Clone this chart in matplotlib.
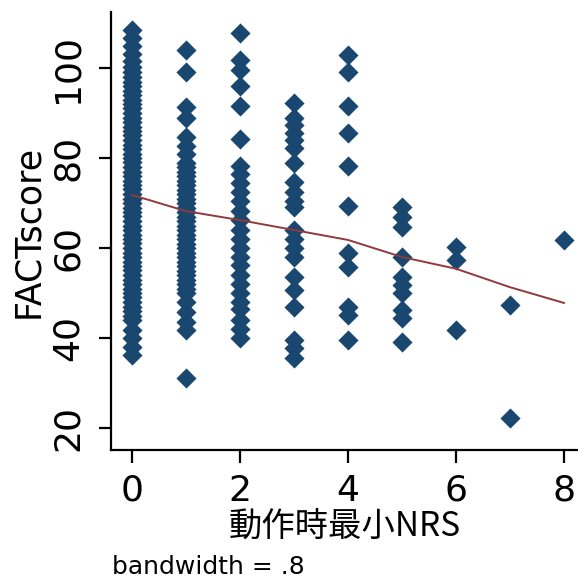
import matplotlib.pyplot as plt

# FACT score by minimum NRS during movement
nrs0 = [108.4, 106.7, 104.9, 103.1, 101.6, 100.2, 99.1, 98.0, 97.0, 96.1, 95.0, 94.1, 93.0, 92.0, 91.1,
        90.0, 89.0, 88.1, 87.0, 86.0, 85.1, 84.0, 83.0, 82.1, 81.0, 80.0, 79.1, 78.0, 77.0, 76.1,
        75.0, 74.0, 73.1, 72.0, 71.0, 70.1, 69.0, 68.0, 67.1, 66.0, 65.0, 64.1, 63.0, 62.0, 61.1,
        60.0, 59.0, 58.1, 57.0, 56.0, 55.1, 54.0, 53.0, 52.1, 51.0, 50.0, 49.1, 48.0, 47.0, 46.1,
        45.0, 44.0, 41.8, 40.0, 38.0, 36.2]
nrs1 = [104.0, 99.1, 91.3, 88.9, 84.7, 82.6, 80.9, 79.0, 78.0, 77.0, 76.0, 75.0, 74.0, 73.0, 72.0,
        71.0, 70.0, 69.0, 68.0, 67.0, 66.0, 65.0, 64.0, 63.0, 62.0, 61.0, 60.0, 59.0, 58.0, 57.0,
        56.0, 55.0, 54.0, 53.0, 52.0, 51.0, 50.0, 48.0, 45.8, 43.6, 41.8, 31.1]
nrs2 = [107.7, 101.8, 99.6, 95.9, 91.6, 84.2, 78.2, 76.5, 74.5, 72.5, 70.5, 68.2, 66.2, 64.0, 62.0,
        60.0, 58.0, 56.2, 54.0, 52.0, 50.0, 48.0, 46.5, 44.0, 42.0, 40.0]
nrs3 = [92.2, 88.8, 87.3, 85.5, 84.0, 82.2, 78.8, 74.7, 72.5, 70.5, 69.2, 64.0, 62.0, 60.0, 58.0,
        53.6, 50.7, 47.0, 39.6, 37.8, 35.6]
nrs4 = [102.9, 99.1, 91.6, 85.6, 78.2, 69.3, 58.9, 55.8, 46.9, 45.1, 39.6]
nrs5 = [69.2, 67.0, 64.7, 58.1, 53.6, 51.8, 49.9, 46.2, 44.4, 39.2]
nrs6 = [60.3, 57.3, 41.8]
nrs7 = [47.3, 22.2]
nrs8 = [61.8]
groups = [nrs0, nrs1, nrs2, nrs3, nrs4, nrs5, nrs6, nrs7, nrs8]

# lowess smooth (bandwidth .8)
lowess_x = [0, 1, 2, 3, 4, 5, 6, 7, 8]
lowess_y = [71.8, 68.2, 66.2, 64.0, 61.8, 58.0, 55.4, 51.3, 47.8]

xticks = [0, 2, 4, 6, 8]
yticks = [20, 40, 60, 80, 100]

navy = '#1a476f'
maroon = '#8f3a3e'

fig = plt.figure(figsize=(5.78, 5.83), dpi=100)
ax = fig.add_axes([0.192, 0.228, 0.808, 0.751])

for x, vals in enumerate(groups):
    ax.scatter([x] * len(vals), vals, marker='D', s=105, color=navy, linewidths=0, zorder=2)
ax.plot(lowess_x, lowess_y, color=maroon, linewidth=1.4, zorder=3)

ax.set_xlim(-0.39, 8.26)
ax.set_ylim(15.1, 112.4)
ax.set_xticks(xticks)
ax.set_yticks(yticks)

for side in ['top', 'right']:
    ax.spines[side].set_visible(False)
for side in ['left', 'bottom']:
    ax.spines[side].set_linewidth(1.6)

ax.tick_params(axis='both', direction='out', length=9, width=1.6, labelsize=26, pad=8)
ax.tick_params(axis='y', labelrotation=90, pad=10)
for t in ax.get_yticklabels():
    t.set_va('center')
for t in ax.get_xticklabels() + ax.get_yticklabels():
    t.set_fontfamily('DejaVu Sans')

ax.set_ylabel('FACTscore', fontsize=25, fontfamily='DejaVu Sans', labelpad=4)
ax.set_xlabel('動作時最小NRS', fontsize=24, family=['Noto Sans CJK TC', 'DejaVu Sans'], labelpad=1)

fig.text(112 / 578, 1 - 567 / 583, 'bandwidth = .8', fontsize=18, fontfamily='DejaVu Sans',
         ha='left', va='center')

plt.savefig('out.png', dpi=100)
